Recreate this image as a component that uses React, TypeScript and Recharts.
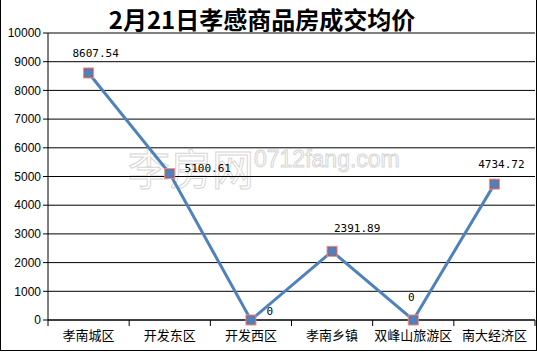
import { LineChart, Line, XAxis, YAxis, CartesianGrid } from "recharts";

const districts = ["孝南城区", "开发东区", "开发西区", "孝南乡镇", "双峰山旅游区", "南大经济区"];
const avgPrice = [8607.54, 5100.61, 0, 2391.89, 0, 4734.72];
const priceLabels = ["8607.54", "5100.61", "0", "2391.89", "0", "4734.72"];
const yTicks = [0, 1000, 2000, 3000, 4000, 5000, 6000, 7000, 8000, 9000, 10000];

// where Excel put each data label, relative to its point
const labelOffset = [
  [7, -16],
  [38, -2],
  [19, -5],
  [25, -19],
  [-2, -19],
  [7, -16],
];

const data = districts.map((d, i) => ({ name: d, price: avgPrice[i] }));

// plot is 487px wide, 6 categories -> half a band on each side
const HALF_BAND = 487 / districts.length / 2;

const Marker = (props: any) => {
  const { cx, cy, index } = props;
  if (cx == null || cy == null) return null;
  return (
    <g key={"m" + index}>
      <rect x={cx - 5} y={cy - 5} width={10} height={10} fill="#C0504D" stroke="#D99694" />
      <circle cx={cx} cy={cy} r={4.5} fill="#4F81BD" />
    </g>
  );
};

const PriceLabel = (props: any) => {
  const { x, y, index } = props;
  const [dx, dy] = labelOffset[index] || [0, -10];
  return (
    <text
      x={x + dx}
      y={y + dy}
      textAnchor="middle"
      fontSize={11}
      fontFamily="DejaVu Sans Mono"
      fill="#000"
    >
      {priceLabels[index]}
    </text>
  );
};

const CatTick = (props: any) => {
  const { x, y, payload, index } = props;
  return (
    <g>
      <line x1={x - HALF_BAND} x2={x - HALF_BAND} y1={y} y2={y + 6} stroke="#000" />
      {index === districts.length - 1 && (
        <line x1={x + HALF_BAND} x2={x + HALF_BAND} y1={y} y2={y + 6} stroke="#000" />
      )}
      <text
        x={x}
        y={y + 20}
        textAnchor="middle"
        fontSize={13}
        fontFamily="Noto Sans CJK SC"
        fill="#000"
      >
        {payload.value}
      </text>
    </g>
  );
};

export default function App() {
  return (
    <div
      style={{
        position: "relative",
        width: 537,
        height: 351,
        boxSizing: "border-box",
        borderLeft: "1px solid #000",
        borderRight: "1px solid #000",
        borderBottom: "1px solid #000",
        background: "#fff",
      }}
    >
      <style>{`body{margin:0}`}</style>
      {/* site watermark sits under the chart */}
      <svg
        width={537}
        height={352}
        style={{ position: "absolute", left: -1, top: 0, pointerEvents: "none" }}
      >
        <g fill="#fff" stroke="#d6d6d6" strokeWidth={1}>
          <text x={128} y={185} fontSize={42} fontFamily="Noto Sans CJK SC">
            李房网
          </text>
          <text x={254} y={167} fontSize={23} fontFamily="Liberation Sans">
            0712fang.com
          </text>
        </g>
      </svg>
      <div style={{ position: "absolute", left: -1, top: 0 }}>
        <LineChart
          width={537}
          height={352}
          data={data}
          margin={{ top: 33, right: 2, left: 0, bottom: 2 }}
        >
          <CartesianGrid vertical={false} stroke="#000" strokeOpacity={1} />
          <XAxis
            dataKey="name"
            interval={0}
            height={30}
            padding={{ left: HALF_BAND, right: HALF_BAND }}
            tickSize={0}
            tickMargin={0}
            tickLine={false}
            axisLine={{ stroke: "#000" }}
            tick={<CatTick />}
          />
          <YAxis
            width={48}
            domain={[0, 10000]}
            ticks={yTicks}
            interval={0}
            tickSize={5}
            tickMargin={2}
            axisLine={{ stroke: "#000" }}
            tickLine={{ stroke: "#000" }}
            tick={{ fontSize: 12, fontFamily: "Liberation Sans", fill: "#000" }}
          />
          <Line
            type="linear"
            dataKey="price"
            stroke="#4F81BD"
            strokeWidth={3}
            dot={<Marker />}
            activeDot={false}
            label={<PriceLabel />}
            isAnimationActive={false}
          />
        </LineChart>
      </div>
      <svg
        width={537}
        height={40}
        style={{ position: "absolute", left: -1, top: 0, pointerEvents: "none" }}
      >
        <text
          x={262}
          y={29}
          textAnchor="middle"
          fontSize={24}
          fontWeight="bold"
          fontFamily="Noto Sans CJK SC"
          fill="#000"
        >
          2月21日孝感商品房成交均价
        </text>
      </svg>
    </div>
  );
}
